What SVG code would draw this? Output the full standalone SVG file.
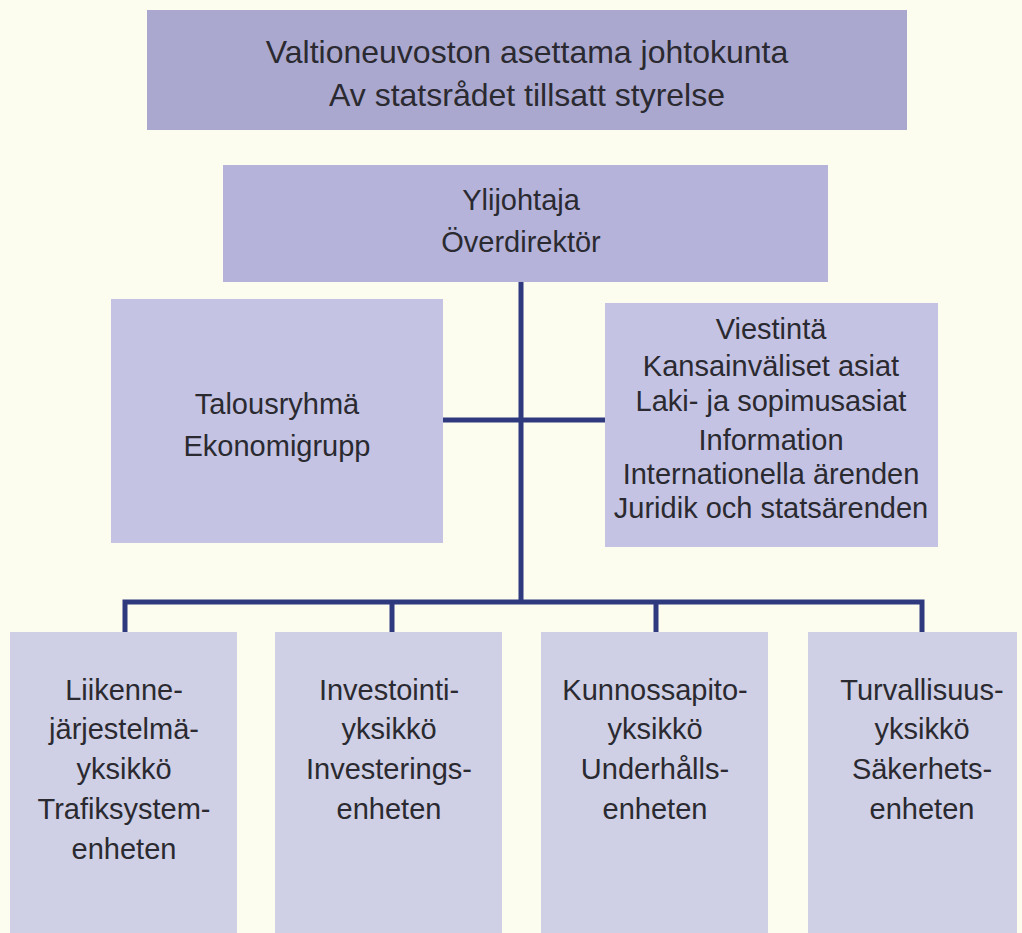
<svg xmlns="http://www.w3.org/2000/svg" width="1022" height="933" viewBox="0 0 1022 933">
<style>
.t{font-family:"Liberation Sans",Arial,sans-serif;font-size:29px;fill:#2a2a30;text-anchor:middle}
.big{font-size:32px}
.ln{stroke:#2f3a7e;stroke-width:5;fill:none}
</style>
<rect width="1022" height="933" fill="#fdfdef"/>
<g id="connectors">
<path class="ln" d="M521 282V602"/>
<path class="ln" d="M443 420H605"/>
<path class="ln" d="M125 632V602H922V632"/>
<path class="ln" d="M392 602V632"/>
<path class="ln" d="M656 602V632"/>
</g>
<g id="board">
<rect x="147" y="10" width="760" height="120" fill="#aaa8cf"/>
<text class="t big" x="527" y="63">Valtioneuvoston asettama johtokunta</text>
<text class="t big" x="527" y="106">Av statsrådet tillsatt styrelse</text>
</g>
<g id="director">
<rect x="223" y="165" width="605" height="117" fill="#b5b3da"/>
<text class="t" x="521" y="210">Ylijohtaja</text>
<text class="t" x="521" y="252">Överdirektör</text>
</g>
<g id="finance">
<rect x="111" y="299" width="332" height="244" fill="#c4c3e3"/>
<text class="t" x="277" y="414">Talousryhmä</text>
<text class="t" x="277" y="456">Ekonomigrupp</text>
</g>
<g id="communications">
<rect x="605" y="303" width="333" height="244" fill="#c4c3e3"/>
<text class="t" x="771" y="339">Viestintä</text>
<text class="t" x="771" y="376">Kansainväliset asiat</text>
<text class="t" x="771" y="411">Laki- ja sopimusasiat</text>
<text class="t" x="771" y="450">Information</text>
<text class="t" x="771" y="484">Internationella ärenden</text>
<text class="t" x="771" y="518">Juridik och statsärenden</text>
</g>
<g id="traffic">
<rect x="10" y="632" width="227" height="301" fill="#cfcfe6"/>
<text class="t" x="124" y="700">Liikenne-</text>
<text class="t" x="124" y="739">järjestelmä-</text>
<text class="t" x="124" y="779">yksikkö</text>
<text class="t" x="124" y="819">Trafiksystem-</text>
<text class="t" x="124" y="859">enheten</text>
</g>
<g id="investment">
<rect x="275" y="632" width="227" height="301" fill="#cfcfe6"/>
<text class="t" x="389" y="700">Investointi-</text>
<text class="t" x="389" y="739">yksikkö</text>
<text class="t" x="389" y="779">Investerings-</text>
<text class="t" x="389" y="819">enheten</text>
</g>
<g id="maintenance">
<rect x="541" y="632" width="227" height="301" fill="#cfcfe6"/>
<text class="t" x="655" y="700">Kunnossapito-</text>
<text class="t" x="655" y="739">yksikkö</text>
<text class="t" x="655" y="779">Underhålls-</text>
<text class="t" x="655" y="819">enheten</text>
</g>
<g id="safety">
<rect x="808" y="632" width="209" height="301" fill="#cfcfe6"/>
<text class="t" x="922" y="700">Turvallisuus-</text>
<text class="t" x="922" y="739">yksikkö</text>
<text class="t" x="922" y="779">Säkerhets-</text>
<text class="t" x="922" y="819">enheten</text>
</g>
</svg>
